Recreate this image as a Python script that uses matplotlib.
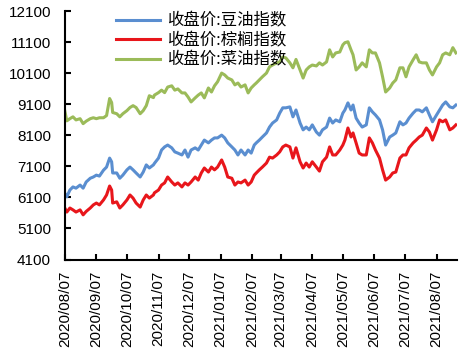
import matplotlib
matplotlib.use("Agg")
import matplotlib.pyplot as plt
import matplotlib.dates as mdates
import pandas as pd

plt.rcParams['font.family'] = ['Liberation Sans', 'Noto Sans CJK SC', 'DejaVu Sans']

dates = [
    "2020-08-07", "2020-08-09", "2020-08-12", "2020-08-15", "2020-08-18", "2020-08-22",
    "2020-08-25", "2020-08-28", "2020-09-01", "2020-09-04", "2020-09-07", "2020-09-10",
    "2020-09-14", "2020-09-17", "2020-09-20", "2020-09-22", "2020-09-23", "2020-09-27",
    "2020-09-30", "2020-10-03", "2020-10-07", "2020-10-10", "2020-10-13", "2020-10-16",
    "2020-10-20", "2020-10-23", "2020-10-26", "2020-10-29", "2020-11-02", "2020-11-03",
    "2020-11-07", "2020-11-10", "2020-11-13", "2020-11-16", "2020-11-20", "2020-11-23",
    "2020-11-26", "2020-11-30", "2020-12-03", "2020-12-06", "2020-12-09", "2020-12-13",
    "2020-12-16", "2020-12-19", "2020-12-22", "2020-12-26", "2020-12-29", "2021-01-01",
    "2021-01-04", "2021-01-08", "2021-01-11", "2021-01-14", "2021-01-18", "2021-01-21",
    "2021-01-24", "2021-01-27", "2021-01-31", "2021-02-03", "2021-02-06", "2021-02-09",
    "2021-02-11", "2021-02-14", "2021-02-17", "2021-02-21", "2021-02-24", "2021-02-27",
    "2021-03-03", "2021-03-06", "2021-03-09", "2021-03-12", "2021-03-16", "2021-03-19",
    "2021-03-22", "2021-03-26", "2021-03-29", "2021-04-01", "2021-04-04", "2021-04-07",
    "2021-04-11", "2021-04-14", "2021-04-17", "2021-04-21", "2021-04-24", "2021-04-27",
    "2021-04-30", "2021-05-04", "2021-05-07", "2021-05-09", "2021-05-12", "2021-05-15",
    "2021-05-17", "2021-05-20", "2021-05-23", "2021-05-26", "2021-05-30", "2021-06-02",
    "2021-06-05", "2021-06-08", "2021-06-12", "2021-06-15", "2021-06-18", "2021-06-22",
    "2021-06-25", "2021-06-28", "2021-07-02", "2021-07-05", "2021-07-08", "2021-07-11",
    "2021-07-15", "2021-07-18", "2021-07-21", "2021-07-24", "2021-07-28", "2021-07-31",
    "2021-08-03", "2021-08-07", "2021-08-10", "2021-08-13", "2021-08-16", "2021-08-20",
    "2021-08-23", "2021-08-26",
]

soybean = [
    6240, 6120, 6340, 6440, 6400, 6500, 6400, 6600, 6720, 6760, 6820, 6790,
    6980, 7080, 7370, 7250, 6890, 6890, 6720, 6820, 6990, 7080, 6990, 6890,
    6760, 6920, 7150, 7050, 7150, 7200, 7370, 7630, 7730, 7790, 7700, 7570,
    7530, 7470, 7630, 7400, 7630, 7700, 7630, 7790, 7950, 7860, 7950, 8020,
    8020, 8110, 8020, 7860, 7730, 7630, 7470, 7630, 7470, 7630, 7530, 7790,
    7860, 7950, 8050, 8180, 8370, 8500, 8600, 8820, 8990, 8990, 9020, 8700,
    8920, 8500, 8280, 8370, 8280, 8440, 8210, 8110, 8280, 8370, 8660, 8500,
    8600, 8540, 8820, 8920, 9150, 8920, 9080, 8660, 8500, 8370, 8440, 8990,
    8860, 8760, 8600, 8280, 7790, 8050, 8110, 8180, 8540, 8440, 8500, 8660,
    8820, 8920, 8920, 8860, 8990, 8760, 8540, 8760, 8920, 9080, 9180, 9020,
    8990, 9080,
]

palm = [
    5760, 5630, 5760, 5700, 5630, 5700, 5540, 5650, 5760, 5860, 5920, 5860,
    6020, 6180, 6470, 6340, 5920, 5960, 5760, 5860, 6020, 6180, 6080, 5920,
    5790, 6020, 6180, 6080, 6180, 6250, 6340, 6500, 6570, 6760, 6600, 6500,
    6570, 6440, 6570, 6500, 6600, 6760, 6660, 6890, 7050, 6920, 7080, 6990,
    7080, 7310, 7080, 6760, 6720, 6500, 6600, 6570, 6660, 6500, 6600, 6820,
    6890, 6990, 7080, 7210, 7400, 7370, 7470, 7570, 7730, 7790, 7730, 7370,
    7700, 7250, 7050, 7210, 7080, 7250, 7080, 6950, 7250, 7400, 7730, 7470,
    7470, 7630, 7790, 7950, 8340, 8050, 8180, 7860, 7530, 7470, 7470, 8020,
    7860, 7630, 7370, 6990, 6660, 6760, 6890, 6920, 7370, 7470, 7470, 7700,
    7860, 7950, 8050, 8110, 8340, 8210, 7950, 8280, 8600, 8540, 8600, 8280,
    8340, 8440,
]

rapeseed = [
    8890, 8570, 8640, 8700, 8600, 8640, 8480, 8560, 8640, 8670, 8640, 8670,
    8670, 8740, 9290, 9160, 8840, 8800, 8700, 8800, 8900, 9000, 9060, 9000,
    8800, 8900, 9060, 9380, 9320, 9400, 9480, 9560, 9480, 9660, 9700, 9560,
    9600, 9470, 9470, 9340, 9180, 9310, 9400, 9470, 9310, 9630, 9500, 9700,
    9830, 10110, 10050, 9950, 9890, 9730, 9790, 9660, 9730, 9470, 9630, 9730,
    9790, 9890, 9990, 10110, 10310, 10370, 10440, 10470, 10630, 10600, 10440, 10280,
    10550, 10210, 9950, 10210, 10310, 10370, 10340, 10440, 10370, 10470, 10860, 10630,
    10760, 10790, 11020, 11090, 11120, 10860, 10700, 10210, 10310, 10440, 10310, 10860,
    10760, 10760, 10440, 9990, 9500, 9630, 9790, 9890, 10280, 10280, 9990, 10310,
    10540, 10700, 10470, 10440, 10440, 10210, 10050, 10310, 10440, 10700, 10760, 10700,
    10930, 10760,
]

labels = ["收盘价:豆油指数", "收盘价:棕榈指数", "收盘价:菜油指数"]
colors = ["#5a8ed0", "#e8161b", "#9bbb59"]
yticks = [4100, 5100, 6100, 7100, 8100, 9100, 10100, 11100, 12100]
xticks = ["2020-08-07", "2020-09-07", "2020-10-07", "2020-11-07", "2020-12-07",
          "2021-01-07", "2021-02-07", "2021-03-07", "2021-04-07", "2021-05-07",
          "2021-06-07", "2021-07-07", "2021-08-07"]

x = pd.to_datetime(dates)
fig = plt.figure(figsize=(4.73, 3.55), dpi=100)
ax = fig.add_axes([0.137, 0.269, 0.829, 0.699])

for series, lab, col in zip([soybean, palm, rapeseed], labels, colors):
    ax.plot(x, series, color=col, lw=2.2, label=lab, solid_joinstyle='round')

ax.set_ylim(4100, 12100)
ax.set_yticks(yticks)
ax.set_xlim(pd.Timestamp("2020-08-07"), pd.Timestamp("2021-08-27"))
ax.set_xticks(pd.to_datetime(xticks))
ax.xaxis.set_major_formatter(mdates.DateFormatter("%Y/%m/%d"))
for lbl in ax.get_xticklabels():
    lbl.set_rotation(90)

ax.tick_params(axis='both', direction='in', length=4, width=1.5, labelsize=11, colors='black')
ax.tick_params(axis='y', pad=10)
ax.tick_params(axis='x', pad=8)
for s in ['top', 'right']:
    ax.spines[s].set_visible(False)
for s in ['left', 'bottom']:
    ax.spines[s].set_linewidth(1.5)

ax.legend(loc='upper left', bbox_to_anchor=(0.13, 0.995), frameon=False,
          borderaxespad=0, borderpad=0, handlelength=2.7, handletextpad=0.4,
          labelspacing=0.16, prop={'family': ['Noto Sans CJK SC'], 'size': 11.8})

fig.savefig("out.png", dpi=100)
